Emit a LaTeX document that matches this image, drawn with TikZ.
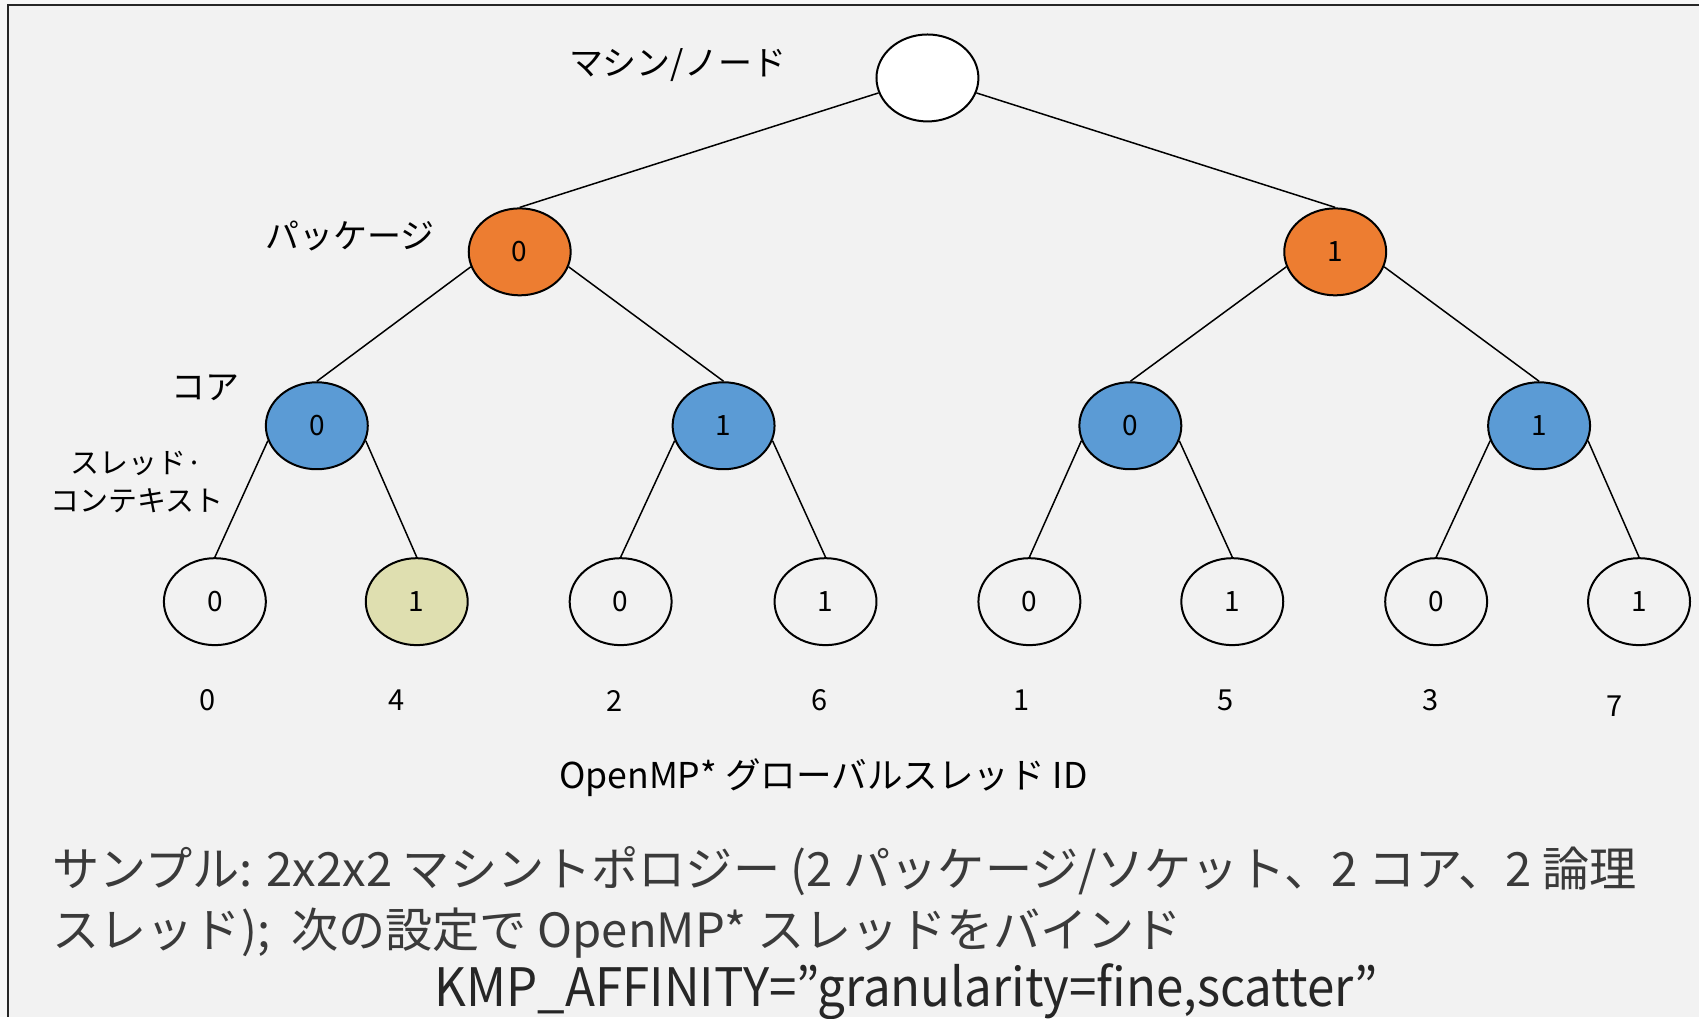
\documentclass[tikz,border=0pt]{standalone}
\usepackage{fontspec}
\setmainfont{Noto Sans CJK JP}
\newfontfamily\settingfont[FakeStretch=0.93]{Noto Sans CJK JP}
\usetikzlibrary{shapes.geometric}
\definecolor{pagebg}{HTML}{F2F2F2}
\definecolor{outerbg}{HTML}{F7F7F7}
\definecolor{pkgorange}{HTML}{ED7D31}
\definecolor{coreblue}{HTML}{5B9BD5}
\definecolor{threadhl}{HTML}{DFDFB0}
\definecolor{captext}{HTML}{3A3A3A}
\tikzset{
  topo/.style={ellipse, draw=black, line width=1pt, minimum width=51pt,
    minimum height=43.5pt, inner sep=0pt, font=\fontsize{14}{16}\selectfont},
  machine/.style={topo, fill=white},
  pkg/.style={topo, fill=pkgorange},
  core/.style={topo, fill=coreblue},
  thr/.style={topo, fill=pagebg},
  thrhl/.style={topo, fill=threadhl},
  link/.style={line width=0.75pt, black},
  levellabel/.style={font=\fontsize{17}{20}\selectfont, inner sep=0pt},
  gid/.style={font=\fontsize{14.5}{17}\selectfont, inner sep=0pt},
  caption/.style={font=\fontsize{23.6}{28}\selectfont, text=captext, inner sep=0pt, anchor=base west},
}
\begin{document}
\begin{tikzpicture}[x=0.5pt, y=-0.5pt]
  % canvas and frame
  \fill[outerbg] (0,0) rectangle (1700,1018);
  \fill[pagebg] (8,5) rectangle (1700,1018);
  \draw[line width=1pt, black!85] (1700,5) -- (8,5) -- (8,1018);
  \useasboundingbox (0,0) rectangle (1700,1018);

  % machine / package / core level
  \node[machine] (m)  at (928,78) {};
  \node[pkg]  (p0) at (520,252) {0};
  \node[pkg]  (p1) at (1336,252) {1};
  \node[core] (c00) at (317,426) {0};
  \node[core] (c01) at (724,426) {1};
  \node[core] (c10) at (1131,426) {0};
  \node[core] (c11) at (1540,426) {1};

  % hardware thread contexts
  \node[thr]   (t000) at (215,602) {0};
  \node[thrhl] (t001) at (417,602) {1};
  \node[thr]   (t010) at (621,602) {0};
  \node[thr]   (t011) at (826,602) {1};
  \node[thr]   (t100) at (1030,602) {0};
  \node[thr]   (t101) at (1233,602) {1};
  \node[thr]   (t110) at (1437,602) {0};
  \node[thr]   (t111) at (1640,602) {1};

  % tree edges
  \draw[link] (m.197) -- (p0.north);
  \draw[link] (m.-17) -- (p1.north);
  \foreach \p/\a/\b in {p0/c00/c01, p1/c10/c11, c00/t000/t001, c01/t010/t011, c10/t100/t101, c11/t110/t111}{
    \draw[link] (\p.197) -- (\a.north);
    \draw[link] (\p.-17) -- (\b.north);
  }

  % level names
  \node[levellabel] (lm) at (678,65) {マシン/ノード};
  \node[levellabel] (lp) at (350,236) {パッケージ};
  \node[levellabel] (lc) at (206,388) {コア};
  \node[font=\fontsize{14.5}{19}\selectfont, align=center, inner sep=0pt] (lt) at (137,482) {スレッド·\\コンテキスト};

  % OpenMP global thread ids
  \node[gid] (g0) at (208,701) {0};
  \node[gid] (g1) at (397,701) {4};
  \node[gid] (g2) at (615,701) {2};
  \node[gid] (g3) at (820,701) {6};
  \node[gid] (g4) at (1022,701) {1};
  \node[gid] (g5) at (1226,701) {5};
  \node[gid] (g6) at (1431,701) {3};
  \node[gid] (g7) at (1615,707) {7};
  \node[levellabel, font=\fontsize{17.8}{20}\selectfont] (gl) at (824,778) {OpenMP* グローバルスレッド ID};

  % caption
  \node[caption] (cap1) at (52,887) {サンプル: 2x2x2 マシントポロジー (2 パッケージ/ソケット、2 コア、2 論理};
  \node[caption] (cap2) at (52,948) {スレッド);\ \ 次の設定で OpenMP* スレッドをバインド};
  \node[caption, anchor=base, text=black!85, font=\settingfont\fontsize{26.5}{30}\selectfont] (cap3) at (907,1007) {KMP\_AFFINITY=”granularity=fine,scatter”};
\end{tikzpicture}
\end{document}
